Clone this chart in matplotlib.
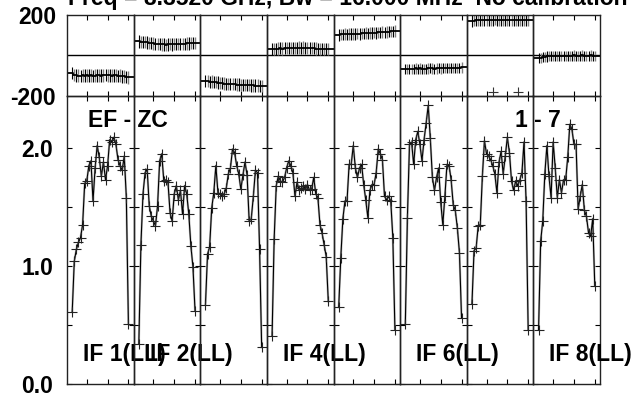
import matplotlib
matplotlib.use('Agg')
import matplotlib.pyplot as plt
import numpy as np

plt.rcParams['font.family'] = ['Liberation Sans', 'DejaVu Sans']
plt.rcParams['font.weight'] = 'bold'

TITLE = 'Freq = 8.3520 GHz, Bw = 16.000 MHz  No calibration'
BASELINE = 'EF - ZC'
BL_NUM = '1 - 7'
IF_LABELS = ['IF 1(LL)', 'IF 2(LL)', None, 'IF 4(LL)', None, 'IF 6(LL)', None, 'IF 8(LL)']

# channels plotted in every IF (32 channels per IF)
channels = list(range(3, 31))

# amplitude (Jy) per IF
amp_if1 = [0.61, 1.04, 1.14, 1.20, 1.24, 1.35, 1.70, 1.72, 1.85, 1.89, 1.55, 1.83, 2.02, 1.92,
           1.76, 1.88, 1.73, 1.85, 2.07, 2.05, 2.09, 2.03, 1.90, 1.85, 1.81, 1.93, 1.58, 0.51]
amp_if2 = [0.34, 1.18, 1.61, 1.79, 1.82, 1.51, 1.42, 1.38, 1.34, 1.51, 1.89, 1.95, 1.72, 1.73,
           1.71, 1.45, 1.38, 1.61, 1.68, 1.56, 1.64, 1.44, 1.68, 1.61, 1.44, 1.17, 0.99, 0.62]
amp_if3 = [0.67, 1.10, 1.16, 1.49, 1.62, 1.85, 1.62, 1.61, 1.59, 1.61, 1.66, 1.78, 1.83, 1.99,
           1.96, 1.85, 1.78, 1.65, 1.77, 1.88, 1.77, 1.38, 1.40, 1.59, 1.81, 1.79, 1.14, 0.31]
amp_if4 = [0.41, 1.23, 1.68, 1.76, 1.72, 1.71, 1.75, 1.83, 1.89, 1.85, 1.79, 1.59, 1.71, 1.64,
           1.66, 1.68, 1.65, 1.69, 1.64, 1.65, 1.75, 1.61, 1.58, 1.35, 1.28, 1.18, 1.08, 0.70]
amp_if5 = [0.65, 1.07, 1.40, 1.55, 1.55, 1.86, 1.86, 2.02, 1.83, 1.75, 1.83, 1.86, 1.69, 1.56,
           1.41, 1.64, 1.69, 1.69, 1.79, 1.99, 1.95, 1.90, 1.59, 1.56, 1.59, 1.55, 1.24, 0.46]
amp_if6 = [0.51, 1.41, 2.03, 2.05, 1.86, 2.07, 2.14, 2.03, 1.89, 2.07, 2.21, 2.36, 2.08, 1.75,
           1.64, 1.75, 1.83, 1.54, 1.35, 1.59, 1.86, 1.85, 1.73, 1.52, 1.47, 1.32, 1.11, 0.56]
amp_if7 = [0.68, 1.13, 1.15, 1.34, 1.35, 1.76, 2.06, 1.95, 1.93, 1.90, 1.85, 1.78, 1.62, 1.88,
           1.97, 1.78, 1.93, 2.09, 1.96, 1.72, 1.64, 1.72, 1.68, 1.73, 1.79, 2.05, 1.55, 0.46]
amp_if8 = [0.46, 1.21, 1.38, 1.78, 2.02, 1.76, 1.58, 2.05, 1.83, 1.58, 1.73, 1.62, 1.73, 1.73,
           1.92, 2.20, 2.16, 2.03, 2.03, 1.48, 1.59, 1.69, 1.47, 1.42, 1.28, 1.25, 1.40, 0.83]

# phase (degrees) per IF
ph_if1 = [-88, -97, -99, -100, -101, -99, -100, -98, -100, -99, -101, -100, -99, -98,
          -100, -99, -97, -98, -99, -100, -98, -99, -101, -100, -103, -104, -106, -108]
ph_if2 = [68, 66, 64, 65, 63, 62, 60, 58, 56, 55, 54, 53, 53, 52,
          53, 54, 53, 54, 55, 55, 56, 57, 57, 58, 58, 59, 60, 61]
ph_if3 = [-126, -128, -130, -129, -131, -132, -134, -136, -138, -139, -140, -141, -142, -143,
          -143, -144, -144, -145, -146, -146, -147, -147, -148, -148, -149, -149, -150, -152]
ph_if4 = [30, 31, 32, 33, 34, 33, 35, 34, 35, 36, 35, 37, 36, 38,
          37, 38, 36, 37, 35, 34, 35, 33, 32, 31, 30, 31, 30, 32]
ph_if5 = [100, 102, 103, 104, 103, 104, 105, 104, 105, 106, 105, 107, 108, 109,
          108, 109, 110, 111, 110, 112, 113, 114, 113, 115, 116, 117, 118, 120]
ph_if6 = [-68, -67, -66, -67, -66, -65, -66, -65, -66, -67, -66, -65, -64, -65,
          -66, -65, -64, -65, -64, -63, -64, -63, -62, -63, -62, -61, -62, -60]
ph_if7 = [168, 170, 172, 171, 173, 172, 174, 173, 172, 173, 174, 175, 174, 173,
          172, 173, 174, 173, 172, 173, 174, 173, 172, 173, 172, 171, 172, 173]
ph_if8 = [-14, -12, -10, -8, -6, -5, -4, -3, -4, -3, -2, -3, -4, -3,
          -2, -3, -2, -1, -2, -3, -2, -1, -2, -3, -2, -1, -2, -3]
ph_err = [31, 30, 30, 30, 28, 25, 28, 25]

# wrapped phase points in IF 7
wrap_chan = [13, 25]
wrap_phase = [-180, -180]

amps = [amp_if1, amp_if2, amp_if3, amp_if4, amp_if5, amp_if6, amp_if7, amp_if8]
phases = [ph_if1, ph_if2, ph_if3, ph_if4, ph_if5, ph_if6, ph_if7, ph_if8]

FS = 16.5
fig = plt.figure(figsize=(6.35, 3.96), dpi=100)
gs = fig.add_gridspec(2, 8, left=67/635, right=600/635, top=1-14.5/396, bottom=1-384/396,
                      height_ratios=[81.5, 288], hspace=0, wspace=0)

for i in range(8):
    axp = fig.add_subplot(gs[0, i])
    axa = fig.add_subplot(gs[1, i])
    for ax in (axp, axa):
        ax.set_facecolor('none')
        ax.set_xlim(0.5, 32.5)
        ax.set_xticks([10, 20, 30])
        ax.tick_params(axis='x', direction='in', top=True, bottom=True, length=3.6,
                       width=0.8, labelbottom=False)
        for s in ax.spines.values():
            s.set_linewidth(1.0)
            s.set_color('#222222')

    # phase panel
    ph = phases[i]
    axp.set_ylim(-200, 200)
    axp.axhline(0, color='black', lw=1.0)
    yerr = np.full(len(ph), ph_err[i])
    axp.errorbar(channels[1::2], ph[1::2], yerr=yerr[1::2], fmt='none', ecolor='#808080', elinewidth=1.0)
    axp.errorbar(channels[0::2], ph[0::2], yerr=yerr[0::2], fmt='none', ecolor='black', elinewidth=0.8)
    axp.plot([0.5] + channels + [32.5], [ph[0]] + ph + [ph[-1]], color='black', lw=1.3,
             drawstyle='steps-mid')
    if i == 6:
        axp.plot(wrap_chan, wrap_phase, ls='none', marker='+', ms=7, mew=0.8, color='#333333')
    if i == 0:
        axp.set_yticks([-200, 200])
        axp.set_yticklabels(['-200', '200'], fontsize=FS, fontweight='bold')
        axp.tick_params(axis='y', length=0, pad=8)
    else:
        axp.set_yticks([])

    # amplitude panel
    amp = amps[i]
    axa.set_ylim(0, 2.44)
    axa.plot(channels, amp, color='#7a7a7a', lw=1.6, alpha=0.5)
    axa.plot(channels, amp, color='black', lw=0.8, marker='+', ms=7, mew=0.8, mec='#222222')
    axa.set_yticks([0, 0.5, 1.0, 1.5, 2.0])
    axa.tick_params(axis='y', direction='in', left=True, right=True, length=3.6, width=0.8)
    if i == 0:
        axa.set_yticklabels(['0.0', '', '1.0', '', '2.0'], fontsize=FS, fontweight='bold')
        axa.tick_params(axis='y', pad=10)
        axa.text(10.6, 2.23, BASELINE, fontsize=FS, fontweight='bold', va='center', ha='left')
    else:
        axa.set_yticklabels([])
    if i == 6:
        axa.text(23.6, 2.23, BL_NUM, fontsize=FS, fontweight='bold', va='center', ha='left')
    if IF_LABELS[i]:
        axa.text(8.2, 0.25, IF_LABELS[i], fontsize=FS, fontweight='bold', va='center', ha='left')

fig.text(68/635, 1-5/396, TITLE, fontsize=FS, fontweight='bold', ha='left', va='baseline')

fig.savefig('out.png', dpi=100)
